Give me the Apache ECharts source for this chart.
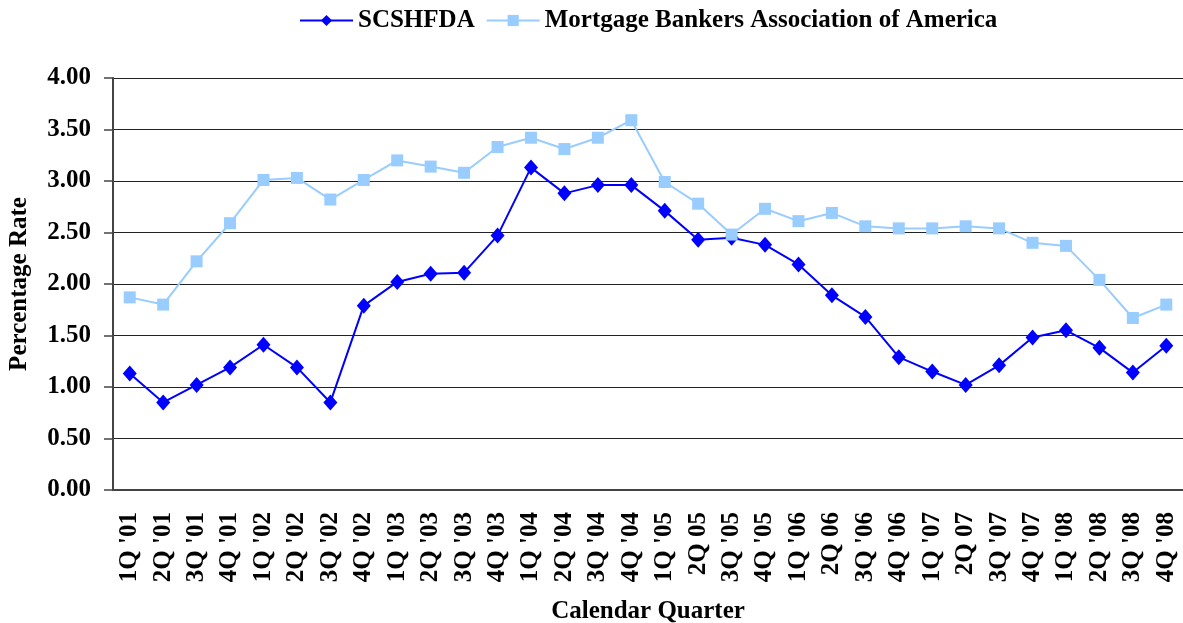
<!DOCTYPE html>
<html>
<head>
<meta charset="utf-8">
<script src="https://cdn.jsdelivr.net/npm/echarts@6/dist/echarts.min.js"></script>
<style>
  html, body { margin: 0; padding: 0; background: #fff; }
  #chart { width: 1183px; height: 623px; }
</style>
</head>
<body>
<div id="chart"></div>
<script>
var quarters = ["1Q '01", "2Q '01", "3Q '01", "4Q '01",
  "1Q '02", "2Q '02", "3Q '02", "4Q '02",
  "1Q '03", "2Q '03", "3Q '03", "4Q '03",
  "1Q '04", "2Q '04", "3Q '04", "4Q '04",
  "1Q '05", "2Q 05", "3Q '05", "4Q '05",
  "1Q '06", "2Q 06", "3Q '06", "4Q '06",
  "1Q '07", "2Q 07", "3Q '07", "4Q '07",
  "1Q '08", "2Q '08", "3Q '08", "4Q '08"];

var scshfda = [1.13, 0.85, 1.02, 1.19, 1.41, 1.19, 0.85, 1.79,
  2.02, 2.10, 2.11, 2.47, 3.13, 2.88, 2.96, 2.96,
  2.71, 2.43, 2.45, 2.38, 2.19, 1.89, 1.68, 1.29,
  1.15, 1.02, 1.21, 1.48, 1.55, 1.38, 1.14, 1.40];

var mba = [1.87, 1.80, 2.22, 2.59, 3.01, 3.03, 2.82, 3.01,
  3.20, 3.14, 3.08, 3.33, 3.42, 3.31, 3.42, 3.59,
  2.99, 2.78, 2.48, 2.73, 2.61, 2.69, 2.56, 2.54,
  2.54, 2.56, 2.54, 2.40, 2.37, 2.04, 1.67, 1.80];

var font = "'Liberation Serif', 'Times New Roman', serif";

var chart = echarts.init(document.getElementById("chart"));
chart.setOption({
  animation: false,
  textStyle: { fontFamily: font, color: "#000" },
  legend: {
    top: 3,
    left: 294,
    itemWidth: 53,
    itemHeight: 14,
    itemGap: 11,
    textStyle: { fontFamily: font, fontWeight: "bold", fontSize: 25, color: "#000" },
    data: ["SCSHFDA", "Mortgage Bankers Association of America"]
  },
  grid: { left: 113, right: 0, top: 78, bottom: 133, outerBoundsMode: "none", containLabel: false },
  xAxis: {
    type: "category",
    data: quarters,
    boundaryGap: true,
    name: "Calendar Quarter",
    nameLocation: "middle",
    nameGap: 109,
    nameTextStyle: { fontFamily: font, fontWeight: "bold", fontSize: 25, color: "#000" },
    axisLine: { lineStyle: { color: "#444", width: 2 } },
    axisTick: { length: 7, lineStyle: { color: "#444", width: 1.5 } },
    axisLabel: {
      rotate: 90,
      interval: 0,
      margin: 22,
      fontFamily: font,
      fontWeight: "bold",
      fontSize: 25,
      color: "#000"
    },
    splitLine: { show: false }
  },
  yAxis: {
    type: "value",
    min: 0,
    max: 4,
    interval: 0.5,
    name: "Percentage Rate",
    nameLocation: "middle",
    nameGap: 81,
    nameTextStyle: { fontFamily: font, fontWeight: "bold", fontSize: 25, color: "#000" },
    axisLine: { show: true, lineStyle: { color: "#444", width: 2 } },
    axisTick: { show: true, length: 9, lineStyle: { color: "#444", width: 1.5 } },
    axisLabel: {
      margin: 22,
      fontFamily: font,
      fontWeight: "bold",
      fontSize: 25,
      color: "#000",
      formatter: function (v) { return v.toFixed(2); }
    },
    splitLine: { lineStyle: { color: "#222", width: 1.2 } }
  },
  series: [
    {
      name: "SCSHFDA",
      type: "line",
      data: scshfda,
      symbol: "diamond",
      symbolSize: [14, 16],
      itemStyle: { color: "#0000FF" },
      lineStyle: { color: "#0000FF", width: 2 },
      z: 2
    },
    {
      name: "Mortgage Bankers Association of America",
      type: "line",
      data: mba,
      symbol: "rect",
      symbolSize: 12,
      itemStyle: { color: "#99CCFF" },
      lineStyle: { color: "#99CCFF", width: 2 },
      z: 3
    }
  ]
});
</script>
</body>
</html>
